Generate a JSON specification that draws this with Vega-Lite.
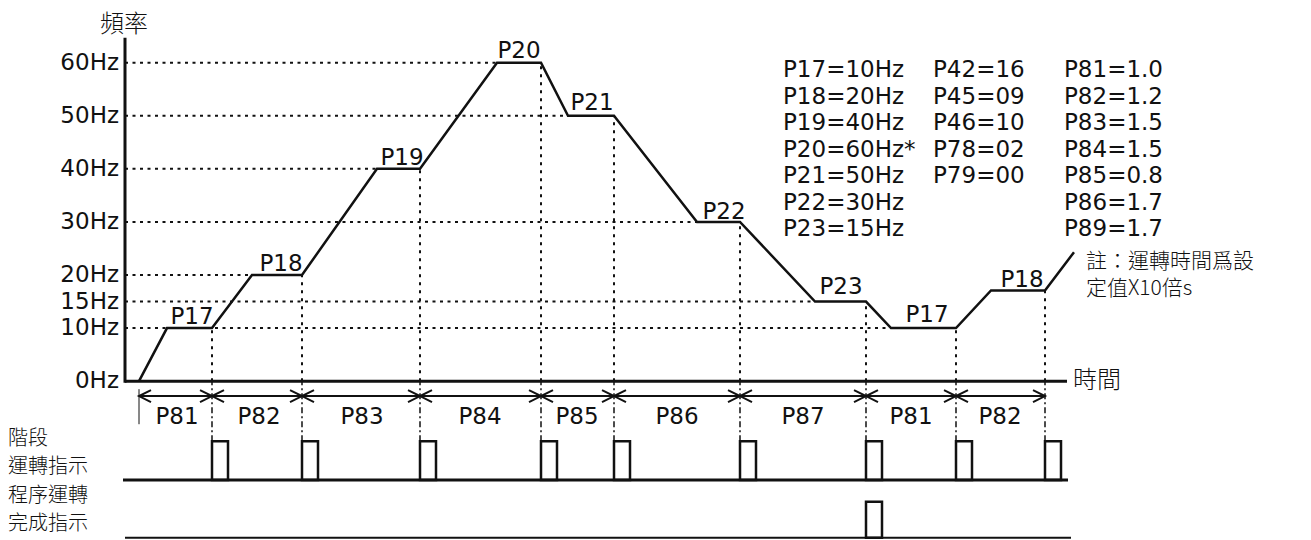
{
  "$schema": "https://vega.github.io/schema/vega-lite/v6.json",
  "autosize": {"type": "fit", "contains": "padding"},
  "width": 1311,
  "height": 540,
  "padding": 0,
  "background": "white",
  "config": {"view": {"stroke": null}},
  "datasets": {
    "curve": [
      {"i": 0, "t": 0, "hz": 0}, {"i": 1, "t": 2.8, "hz": 10}, {"i": 2, "t": 7.3, "hz": 10},
      {"i": 3, "t": 11.3, "hz": 20}, {"i": 4, "t": 16.3, "hz": 20}, {"i": 5, "t": 23.8, "hz": 40},
      {"i": 6, "t": 28.1, "hz": 40}, {"i": 7, "t": 35.8, "hz": 60}, {"i": 8, "t": 40.2, "hz": 60},
      {"i": 9, "t": 42.9, "hz": 50}, {"i": 10, "t": 47.5, "hz": 50}, {"i": 11, "t": 55.8, "hz": 30},
      {"i": 12, "t": 60.1, "hz": 30}, {"i": 13, "t": 67.6, "hz": 15}, {"i": 14, "t": 72.7, "hz": 15},
      {"i": 15, "t": 75.2, "hz": 10}, {"i": 16, "t": 81.7, "hz": 10}, {"i": 17, "t": 85.2, "hz": 17.1},
      {"i": 18, "t": 90.6, "hz": 17.1}, {"i": 19, "t": 93.5, "hz": 24.3}
    ],
    "hlines": [
      {"hz": 60, "t0": -1.4, "t1": 35.8}, {"hz": 50, "t0": -1.4, "t1": 42.9},
      {"hz": 40, "t0": -1.4, "t1": 23.8}, {"hz": 30, "t0": -1.4, "t1": 55.8},
      {"hz": 20, "t0": -1.4, "t1": 11.3}, {"hz": 15, "t0": -1.4, "t1": 67.6},
      {"hz": 10, "t0": -1.4, "t1": 75.2}
    ],
    "vlines": [
      {"t": 7.3, "bot": 0, "top": 10}, {"t": 16.3, "bot": 0, "top": 20}, {"t": 28.1, "bot": 0, "top": 40},
      {"t": 40.2, "bot": 0, "top": 60}, {"t": 47.5, "bot": 0, "top": 50}, {"t": 60.1, "bot": 0, "top": 30},
      {"t": 72.7, "bot": 0, "top": 15}, {"t": 81.7, "bot": 0, "top": 10}, {"t": 90.6, "bot": 0, "top": 17.1}
    ],
    "bounds": [
      {"t": 7.3, "lo": -11.3, "hi": 0}, {"t": 16.3, "lo": -11.3, "hi": 0}, {"t": 28.1, "lo": -11.3, "hi": 0},
      {"t": 40.2, "lo": -11.3, "hi": 0}, {"t": 47.5, "lo": -11.3, "hi": 0}, {"t": 60.1, "lo": -11.3, "hi": 0},
      {"t": 72.7, "lo": -11.3, "hi": 0}, {"t": 81.7, "lo": -11.3, "hi": 0}, {"t": 90.6, "lo": -11.3, "hi": 0}
    ],
    "thick": [
      {"t0": -1.4, "t1": -1.4, "y0": -0.3, "y1": 64.7},
      {"t0": -1.4, "t1": 92.8, "y0": 0, "y1": 0},
      {"t0": -1.6, "t1": 92.9, "y0": -18.6, "y1": -18.6}
    ],
    "thin": [
      {"t0": 0, "t1": 90.6, "y0": -2.8, "y1": -2.8},
      {"t0": -1.4, "t1": 93.2, "y0": -29.5, "y1": -29.5}
    ],
    "hair": [
      {"t0": 0, "t1": 0, "y0": -1.5, "y1": -8.1}
    ],
    "pulses": [
      {"t0": 7.3, "t1": 8.9, "lo": -18.6, "hi": -11.3}, {"t0": 16.3, "t1": 17.9, "lo": -18.6, "hi": -11.3},
      {"t0": 28.1, "t1": 29.7, "lo": -18.6, "hi": -11.3}, {"t0": 40.2, "t1": 41.8, "lo": -18.6, "hi": -11.3},
      {"t0": 47.5, "t1": 49.1, "lo": -18.6, "hi": -11.3}, {"t0": 60.1, "t1": 61.7, "lo": -18.6, "hi": -11.3},
      {"t0": 72.7, "t1": 74.3, "lo": -18.6, "hi": -11.3}, {"t0": 81.7, "t1": 83.3, "lo": -18.6, "hi": -11.3},
      {"t0": 90.6, "t1": 92.2, "lo": -18.6, "hi": -11.3},
      {"t0": 72.7, "t1": 74.3, "lo": -29.5, "hi": -22.7}
    ],
    "arrowsL": [
      {"t": 0, "hz": -2.8}, {"t": 7.3, "hz": -2.8}, {"t": 16.3, "hz": -2.8}, {"t": 28.1, "hz": -2.8},
      {"t": 40.2, "hz": -2.8}, {"t": 47.5, "hz": -2.8}, {"t": 60.1, "hz": -2.8}, {"t": 72.7, "hz": -2.8},
      {"t": 81.7, "hz": -2.8}
    ],
    "arrowsR": [
      {"t": 7.3, "hz": -2.8}, {"t": 16.3, "hz": -2.8}, {"t": 28.1, "hz": -2.8},
      {"t": 40.2, "hz": -2.8}, {"t": 47.5, "hz": -2.8}, {"t": 60.1, "hz": -2.8}, {"t": 72.7, "hz": -2.8},
      {"t": 81.7, "hz": -2.8}, {"t": 90.6, "hz": -2.8}
    ],
    "ticklabels": [
      {"t": -2.0, "hz": 60, "label": "60Hz"}, {"t": -2.0, "hz": 50, "label": "50Hz"}, {"t": -2.0, "hz": 40, "label": "40Hz"},
      {"t": -2.0, "hz": 30, "label": "30Hz"}, {"t": -2.0, "hz": 20, "label": "20Hz"}, {"t": -2.0, "hz": 15, "label": "15Hz"},
      {"t": -2.0, "hz": 10, "label": "10Hz"}, {"t": -2.0, "hz": 0, "label": "0Hz"}
    ],
    "steplabels": [
      {"t": 5.3, "hz": 10.7, "label": "P17"}, {"t": 14.2, "hz": 20.7, "label": "P18"},
      {"t": 26.3, "hz": 40.8, "label": "P19"}, {"t": 38.0, "hz": 60.9, "label": "P20"},
      {"t": 45.3, "hz": 51.1, "label": "P21"}, {"t": 58.5, "hz": 30.5, "label": "P22"},
      {"t": 70.2, "hz": 16.4, "label": "P23"}, {"t": 78.8, "hz": 11.1, "label": "P17"},
      {"t": 88.3, "hz": 17.7, "label": "P18"}
    ],
    "intervals": [
      {"t": 3.8, "hz": -6.8, "label": "P81"}, {"t": 12.0, "hz": -6.8, "label": "P82"}, {"t": 22.3, "hz": -6.8, "label": "P83"},
      {"t": 34.1, "hz": -6.8, "label": "P84"}, {"t": 43.8, "hz": -6.8, "label": "P85"}, {"t": 53.8, "hz": -6.8, "label": "P86"},
      {"t": 66.4, "hz": -6.8, "label": "P87"}, {"t": 77.2, "hz": -6.8, "label": "P81"}, {"t": 86.1, "hz": -6.8, "label": "P82"}
    ],
    "params": [
      {"t": 64.4, "hz": 58.6, "label": "P17=10Hz"}, {"t": 64.4, "hz": 53.6, "label": "P18=20Hz"},
      {"t": 64.4, "hz": 48.6, "label": "P19=40Hz"}, {"t": 64.4, "hz": 43.6, "label": "P20=60Hz*"},
      {"t": 64.4, "hz": 38.6, "label": "P21=50Hz"}, {"t": 64.4, "hz": 33.6, "label": "P22=30Hz"},
      {"t": 64.4, "hz": 28.6, "label": "P23=15Hz"},
      {"t": 79.4, "hz": 58.6, "label": "P42=16"}, {"t": 79.4, "hz": 53.6, "label": "P45=09"},
      {"t": 79.4, "hz": 48.6, "label": "P46=10"}, {"t": 79.4, "hz": 43.6, "label": "P78=02"},
      {"t": 79.4, "hz": 38.6, "label": "P79=00"},
      {"t": 92.5, "hz": 58.6, "label": "P81=1.0"}, {"t": 92.5, "hz": 53.6, "label": "P82=1.2"},
      {"t": 92.5, "hz": 48.6, "label": "P83=1.5"}, {"t": 92.5, "hz": 43.6, "label": "P84=1.5"},
      {"t": 92.5, "hz": 38.6, "label": "P85=0.8"}, {"t": 92.5, "hz": 33.6, "label": "P86=1.7"},
      {"t": 92.5, "hz": 28.6, "label": "P89=1.7"}
    ],
    "cjkleft": [
      {"t": -13.1, "hz": -10.9, "label": "階段"}, {"t": -13.1, "hz": -16.2, "label": "運轉指示"},
      {"t": -13.1, "hz": -21.6, "label": "程序運轉"}, {"t": -13.1, "hz": -26.9, "label": "完成指示"}
    ],
    "cjkmisc": [
      {"t": 93.4, "hz": 0, "label": "時間"},
      {"t": -3.9, "hz": 67.1, "label": "頻率"}
    ],
    "note": [
      {"t": 94.7, "hz": 22.4, "label": "註：運轉時間爲設"}, {"t": 94.7, "hz": 17.3, "label": "定值X10倍s"}
    ]
  },
  "layer": [
    {
      "data": {"name": "hlines"},
      "mark": {"type": "rule", "color": "#111", "strokeWidth": 2, "strokeDash": [3, 4.5]},
      "encoding": {
        "x": {"field": "t0", "type": "quantitative", "scale": {"domain": [-13.9, 117.2], "nice": false, "zero": false}, "axis": null},
        "x2": {"field": "t1"},
        "y": {"field": "hz", "type": "quantitative", "scale": {"domain": [-29.72, 71.8], "nice": false, "zero": false}, "axis": null}
      }
    },
    {
      "data": {"name": "vlines"},
      "mark": {"type": "rule", "color": "#111", "strokeWidth": 2, "strokeDash": [3, 5]},
      "encoding": {
        "x": {"field": "t", "type": "quantitative", "scale": {"domain": [-13.9, 117.2], "nice": false, "zero": false}, "axis": null},
        "y": {"field": "bot", "type": "quantitative", "scale": {"domain": [-29.72, 71.8], "nice": false, "zero": false}, "axis": null},
        "y2": {"field": "top"}
      }
    },
    {
      "data": {"name": "bounds"},
      "mark": {"type": "rule", "color": "#111", "strokeWidth": 1.5, "strokeDash": [6, 3, 2, 3]},
      "encoding": {
        "x": {"field": "t", "type": "quantitative", "scale": {"domain": [-13.9, 117.2], "nice": false, "zero": false}, "axis": null},
        "y": {"field": "lo", "type": "quantitative", "scale": {"domain": [-29.72, 71.8], "nice": false, "zero": false}, "axis": null},
        "y2": {"field": "hi"}
      }
    },
    {
      "data": {"name": "thick"},
      "mark": {"type": "rule", "color": "#111", "strokeWidth": 3},
      "encoding": {
        "x": {"field": "t0", "type": "quantitative", "scale": {"domain": [-13.9, 117.2], "nice": false, "zero": false}, "axis": null},
        "x2": {"field": "t1"},
        "y": {"field": "y0", "type": "quantitative", "scale": {"domain": [-29.72, 71.8], "nice": false, "zero": false}, "axis": null},
        "y2": {"field": "y1"}
      }
    },
    {
      "data": {"name": "thin"},
      "mark": {"type": "rule", "color": "#111", "strokeWidth": 2},
      "encoding": {
        "x": {"field": "t0", "type": "quantitative", "scale": {"domain": [-13.9, 117.2], "nice": false, "zero": false}, "axis": null},
        "x2": {"field": "t1"},
        "y": {"field": "y0", "type": "quantitative", "scale": {"domain": [-29.72, 71.8], "nice": false, "zero": false}, "axis": null},
        "y2": {"field": "y1"}
      }
    },
    {
      "data": {"name": "hair"},
      "mark": {"type": "rule", "color": "#111", "strokeWidth": 1},
      "encoding": {
        "x": {"field": "t0", "type": "quantitative", "scale": {"domain": [-13.9, 117.2], "nice": false, "zero": false}, "axis": null},
        "x2": {"field": "t1"},
        "y": {"field": "y0", "type": "quantitative", "scale": {"domain": [-29.72, 71.8], "nice": false, "zero": false}, "axis": null},
        "y2": {"field": "y1"}
      }
    },
    {
      "data": {"name": "curve"},
      "mark": {"type": "line", "color": "#111", "strokeWidth": 2.5, "strokeJoin": "miter"},
      "encoding": {
        "x": {"field": "t", "type": "quantitative", "scale": {"domain": [-13.9, 117.2], "nice": false, "zero": false}, "axis": null},
        "y": {"field": "hz", "type": "quantitative", "scale": {"domain": [-29.72, 71.8], "nice": false, "zero": false}, "axis": null},
        "order": {"field": "i", "type": "quantitative"}
      }
    },
    {
      "data": {"name": "pulses"},
      "mark": {"type": "rect", "filled": false, "stroke": "#111", "strokeWidth": 2.5},
      "encoding": {
        "x": {"field": "t0", "type": "quantitative", "scale": {"domain": [-13.9, 117.2], "nice": false, "zero": false}, "axis": null},
        "x2": {"field": "t1"},
        "y": {"field": "lo", "type": "quantitative", "scale": {"domain": [-29.72, 71.8], "nice": false, "zero": false}, "axis": null},
        "y2": {"field": "hi"}
      }
    },
    {
      "data": {"name": "arrowsL"},
      "mark": {"type": "point", "shape": "M2,-1L0,0L2,1", "filled": false, "stroke": "#111", "strokeWidth": 2, "size": 144, "opacity": 1},
      "encoding": {
        "x": {"field": "t", "type": "quantitative", "scale": {"domain": [-13.9, 117.2], "nice": false, "zero": false}, "axis": null},
        "y": {"field": "hz", "type": "quantitative", "scale": {"domain": [-29.72, 71.8], "nice": false, "zero": false}, "axis": null}
      }
    },
    {
      "data": {"name": "arrowsR"},
      "mark": {"type": "point", "shape": "M-2,-1L0,0L-2,1", "filled": false, "stroke": "#111", "strokeWidth": 2, "size": 144, "opacity": 1},
      "encoding": {
        "x": {"field": "t", "type": "quantitative", "scale": {"domain": [-13.9, 117.2], "nice": false, "zero": false}, "axis": null},
        "y": {"field": "hz", "type": "quantitative", "scale": {"domain": [-29.72, 71.8], "nice": false, "zero": false}, "axis": null}
      }
    },
    {
      "data": {"name": "ticklabels"},
      "mark": {"type": "text", "font": "DejaVu Sans", "fontSize": 23, "align": "right", "baseline": "middle", "color": "#111"},
      "encoding": {
        "x": {"field": "t", "type": "quantitative", "scale": {"domain": [-13.9, 117.2], "nice": false, "zero": false}, "axis": null},
        "y": {"field": "hz", "type": "quantitative", "scale": {"domain": [-29.72, 71.8], "nice": false, "zero": false}, "axis": null},
        "text": {"field": "label", "type": "nominal"}
      }
    },
    {
      "data": {"name": "steplabels"},
      "mark": {"type": "text", "font": "DejaVu Sans", "fontSize": 23, "align": "center", "baseline": "alphabetic", "color": "#111"},
      "encoding": {
        "x": {"field": "t", "type": "quantitative", "scale": {"domain": [-13.9, 117.2], "nice": false, "zero": false}, "axis": null},
        "y": {"field": "hz", "type": "quantitative", "scale": {"domain": [-29.72, 71.8], "nice": false, "zero": false}, "axis": null},
        "text": {"field": "label", "type": "nominal"}
      }
    },
    {
      "data": {"name": "intervals"},
      "mark": {"type": "text", "font": "DejaVu Sans", "fontSize": 23, "align": "center", "baseline": "middle", "color": "#111"},
      "encoding": {
        "x": {"field": "t", "type": "quantitative", "scale": {"domain": [-13.9, 117.2], "nice": false, "zero": false}, "axis": null},
        "y": {"field": "hz", "type": "quantitative", "scale": {"domain": [-29.72, 71.8], "nice": false, "zero": false}, "axis": null},
        "text": {"field": "label", "type": "nominal"}
      }
    },
    {
      "data": {"name": "params"},
      "mark": {"type": "text", "font": "DejaVu Sans", "fontSize": 23, "align": "left", "baseline": "middle", "color": "#111"},
      "encoding": {
        "x": {"field": "t", "type": "quantitative", "scale": {"domain": [-13.9, 117.2], "nice": false, "zero": false}, "axis": null},
        "y": {"field": "hz", "type": "quantitative", "scale": {"domain": [-29.72, 71.8], "nice": false, "zero": false}, "axis": null},
        "text": {"field": "label", "type": "nominal"}
      }
    },
    {
      "data": {"name": "cjkleft"},
      "mark": {"type": "text", "font": "Noto Sans CJK TC", "fontWeight": 300, "fontSize": 20, "align": "left", "baseline": "middle", "color": "#111"},
      "encoding": {
        "x": {"field": "t", "type": "quantitative", "scale": {"domain": [-13.9, 117.2], "nice": false, "zero": false}, "axis": null},
        "y": {"field": "hz", "type": "quantitative", "scale": {"domain": [-29.72, 71.8], "nice": false, "zero": false}, "axis": null},
        "text": {"field": "label", "type": "nominal"}
      }
    },
    {
      "data": {"name": "cjkmisc"},
      "mark": {"type": "text", "font": "Noto Sans CJK TC", "fontWeight": 300, "fontSize": 24, "align": "left", "baseline": "middle", "color": "#111"},
      "encoding": {
        "x": {"field": "t", "type": "quantitative", "scale": {"domain": [-13.9, 117.2], "nice": false, "zero": false}, "axis": null},
        "y": {"field": "hz", "type": "quantitative", "scale": {"domain": [-29.72, 71.8], "nice": false, "zero": false}, "axis": null},
        "text": {"field": "label", "type": "nominal"}
      }
    },
    {
      "data": {"name": "note"},
      "mark": {"type": "text", "font": "Noto Sans CJK TC", "fontWeight": 300, "fontSize": 21, "align": "left", "baseline": "middle", "color": "#111"},
      "encoding": {
        "x": {"field": "t", "type": "quantitative", "scale": {"domain": [-13.9, 117.2], "nice": false, "zero": false}, "axis": null},
        "y": {"field": "hz", "type": "quantitative", "scale": {"domain": [-29.72, 71.8], "nice": false, "zero": false}, "axis": null},
        "text": {"field": "label", "type": "nominal"}
      }
    }
  ]
}
